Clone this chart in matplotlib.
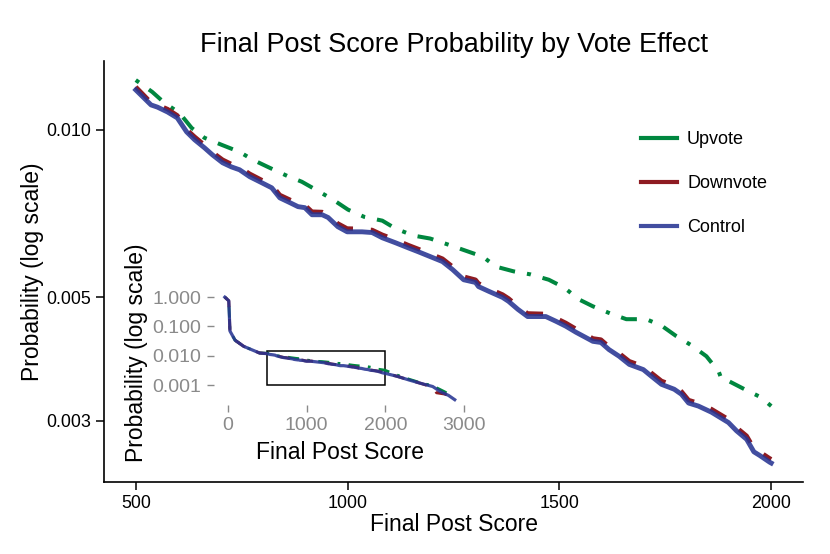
import matplotlib.pyplot as plt
from matplotlib.lines import Line2D
from matplotlib.patches import Rectangle

plt.rcParams['font.family'] = ['Liberation Sans', 'DejaVu Sans']

# final post score (main panel range 500-2000)
score = [500, 536, 551, 575, 598, 620, 639, 662, 681, 705, 726, 745, 769, 797,
         821, 840, 864, 883, 899, 916, 940, 954, 977, 999, 1034, 1058, 1082,
         1113, 1143, 1167, 1200, 1224, 1248, 1274, 1302, 1309, 1333, 1366,
         1380, 1402, 1425, 1468, 1492, 1515, 1539, 1579, 1598, 1617, 1641,
         1665, 1698, 1717, 1741, 1771, 1788, 1805, 1828, 1859, 1899, 1918,
         1942, 1959, 1973, 1996, 2000]
control = [0.01180, 0.01109, 0.01099, 0.01077, 0.01051, 0.00992, 0.00960,
           0.00929, 0.00902, 0.00873, 0.00858, 0.00848, 0.00824, 0.00804,
           0.00787, 0.00755, 0.00740, 0.00728, 0.00725, 0.00704, 0.00704,
           0.00696, 0.00670, 0.00656, 0.00656, 0.00654, 0.00640, 0.00627,
           0.00614, 0.00604, 0.00590, 0.00580, 0.00561, 0.00538, 0.00532,
           0.00523, 0.00513, 0.00500, 0.00492, 0.00476, 0.00462, 0.00462,
           0.00453, 0.00444, 0.00433, 0.00417, 0.00415, 0.00403, 0.00392,
           0.00379, 0.00371, 0.00361, 0.00349, 0.00342, 0.00335, 0.00323,
           0.00319, 0.00311, 0.00298, 0.00288, 0.00278, 0.00264, 0.00260,
           0.00253, 0.00252]
downvote = [0.01195, 0.01120, 0.01110, 0.01090, 0.01062, 0.01002, 0.00972,
            0.00940, 0.00912, 0.00884, 0.00868, 0.00858, 0.00834, 0.00813,
            0.00797, 0.00764, 0.00749, 0.00737, 0.00733, 0.00713, 0.00712,
            0.00704, 0.00679, 0.00665, 0.00664, 0.00661, 0.00648, 0.00635,
            0.00621, 0.00611, 0.00597, 0.00587, 0.00568, 0.00545, 0.00538,
            0.00530, 0.00519, 0.00506, 0.00498, 0.00482, 0.00468, 0.00467,
            0.00459, 0.00450, 0.00439, 0.00422, 0.00420, 0.00408, 0.00397,
            0.00384, 0.00376, 0.00366, 0.00354, 0.00347, 0.00339, 0.00327,
            0.00323, 0.00315, 0.00302, 0.00292, 0.00282, 0.00268, 0.00264,
            0.00257, 0.00256]

up_score = [500, 539, 568, 603, 632, 662, 703, 745, 776, 816, 857, 892, 930,
            966, 1001, 1039, 1082, 1113, 1155, 1195, 1238, 1278, 1319, 1350,
            1392, 1432, 1475, 1511, 1546, 1579, 1620, 1658, 1705, 1741, 1776,
            1812, 1847, 1876, 1883, 1902, 1937, 1975, 2000]
upvote = [0.01229, 0.01170, 0.01118, 0.01073, 0.01008, 0.00968, 0.00940,
          0.00913, 0.00884, 0.00855, 0.00827, 0.00807, 0.00777, 0.00749,
          0.00719, 0.00698, 0.00687, 0.00665, 0.00646, 0.00638, 0.00622,
          0.00607, 0.00592, 0.00568, 0.00557, 0.00550, 0.00538, 0.00521,
          0.00496, 0.00482, 0.00468, 0.00457, 0.00457, 0.00445, 0.00426,
          0.00410, 0.00392, 0.00368, 0.00356, 0.00353, 0.00342, 0.00331,
          0.00319]

# extra points for the full-range inset
head_score = [-40, 10, 25, 90, 200, 400]
head_prob = [1.0, 0.75, 0.07, 0.034, 0.021, 0.0125]
ctrl_tail_score = [2150, 2300, 2450, 2600, 2700, 2800, 2880]
ctrl_tail = [0.0020, 0.00150, 0.00115, 0.00090, 0.00060, 0.00045, 0.00032]
down_tail_score = [2150, 2300, 2450, 2600, 2650, 2750, 2850]
down_tail = [0.0020, 0.0015, 0.00115, 0.00085, 0.00055, 0.00050, 0.00040]
up_tail_score = [2150, 2300, 2450, 2600, 2750, 2850]
up_tail = [0.0022, 0.0016, 0.0012, 0.00095, 0.00060, 0.00042]

c_up = '#00873F'
c_down = '#8E1B22'
c_ctrl = '#283593'

fig = plt.figure(figsize=(8.3, 5.54), dpi=100)
ax = fig.add_axes([104 / 830, 72 / 554, 699 / 830, 421 / 554])

ax.plot(up_score, upvote, color=c_up, lw=2.9, dashes=(1, 3, 4, 3))
ax.plot(score, downvote, color=c_down, lw=3.2, dashes=(4, 4))
ax.plot(score, control, color=c_ctrl, lw=3.5, alpha=0.88)

ax.set_yscale('log')
ax.set_xlim(425, 2075)
ax.set_ylim(0.00233, 0.0133)
ax.set_xticks([500, 1000, 1500, 2000])
ax.set_xticklabels(['500', '1000', '1500', '2000'])
ax.set_yticks([0.003, 0.005, 0.010])
ax.set_yticklabels(['0.003', '0.005', '0.010'])
ax.minorticks_off()
ax.tick_params(labelsize=12.9, length=5.5, width=1.1, pad=4, colors='black')
for s in ['top', 'right']:
    ax.spines[s].set_visible(False)
for s in ['left', 'bottom']:
    ax.spines[s].set_linewidth(1.2)

ax.set_xlabel('Final Post Score', fontsize=16.5, va='center')
ax.xaxis.set_label_coords(0.5, -0.102)
ax.set_ylabel('Probability (log scale)', fontsize=16.5, va='center')
ax.yaxis.set_label_coords(-0.103, 0.5)
ax.set_title('Final Post Score Probability by Vote Effect', fontsize=19.5,
             y=1.038, va='center', pad=0)

handles = [Line2D([], [], color=c_up, lw=3),
           Line2D([], [], color=c_down, lw=3),
           Line2D([], [], color=c_ctrl, lw=3, alpha=0.88)]
ax.legend(handles, ['Upvote', 'Downvote', 'Control'], frameon=False,
          fontsize=13, loc='upper left', bbox_to_anchor=(641 / 830, 1 - 131 / 554),
          bbox_transform=fig.transFigure, borderpad=0, borderaxespad=0,
          handlelength=2.0, handletextpad=0.55, labelspacing=1.5)

# inset: whole score range
ins = fig.add_axes([213.5 / 830, 149 / 554, 253.5 / 830, 113 / 554])
ins.set_facecolor('none')
ins.plot(head_score + up_score + up_tail_score, head_prob + upvote + up_tail,
         color=c_up, lw=2.0, dashes=(1, 3, 4, 3))
ins.plot(head_score + score + down_tail_score, head_prob + downvote + down_tail,
         color=c_down, lw=2.1, dashes=(4, 4))
ins.plot(head_score + score + ctrl_tail_score, head_prob + control + ctrl_tail,
         color=c_ctrl, lw=2.3, alpha=0.88)
ins.add_patch(Rectangle((500, 0.001), 1500, 0.015 - 0.001, fill=False,
                        edgecolor='black', lw=1.1))
ins.set_yscale('log')
ins.set_xlim(-184, 3036)
ins.set_ylim(0.000211, 1.496)
ins.set_xticks([0, 1000, 2000, 3000])
ins.set_xticklabels(['0', '1000', '2000', '3000'])
ins.set_yticks([0.001, 0.01, 0.1, 1.0])
ins.set_yticklabels(['0.001', '0.010', '0.100', '1.000'])
ins.minorticks_off()
ins.tick_params(labelsize=14, length=5, width=1.0, pad=4, colors='#8a8a8a',
                labelcolor='#8a8a8a')
for s in ins.spines.values():
    s.set_visible(False)
ins.set_xlabel('Final Post Score', fontsize=16.5, va='center')
ins.xaxis.set_label_coords(0.5, -0.416)
ins.set_ylabel('Probability (log scale)', fontsize=16.5, va='center')
ins.yaxis.set_label_coords(-0.302, 0.465)

fig.savefig('out.png', dpi=100)
